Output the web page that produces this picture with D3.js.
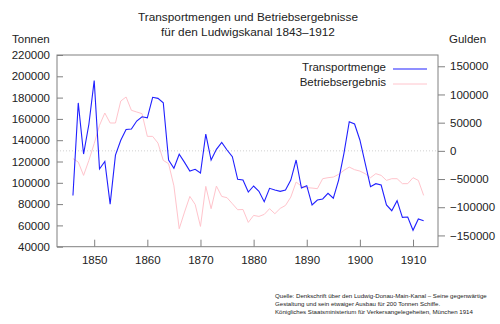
<!DOCTYPE html>
<html lang="de">
<head>
<meta charset="utf-8">
<title>Ludwigskanal</title>
<script src="https://d3js.org/d3.v7.min.js"></script>
<style>
  body{margin:0;background:#fff;font-family:"Liberation Sans",Arial,sans-serif;}
  .axis text{font-size:11.5px;fill:#222;font-family:"Liberation Sans",Arial,sans-serif;}
  .axis line{stroke:#808080;}
  .axis path{display:none;}
</style>
</head>
<body>
<div id="chart"></div>
<script>
// years with data
var years = d3.range(1846, 1913)

// Transportmenge in Tonnen (left axis)
var tonnen = [88000, 175000, 127000, 155000, 196000, 113000, 120000, 80000, 126000, 140000,
              150000, 150500, 158000, 162000, 161000, 180300, 179300, 175200, 121400, 113600,
              126800, 119200, 111000, 112700, 109200, 145800, 121400, 131400, 138000, 130800,
              124500, 103300, 102600, 91300, 97000, 92000, 82300, 94800, 93200, 92000,
              93200, 102600, 121400, 95100, 97300, 79200, 83800, 84800, 90100, 85500,
              102600, 127700, 157400, 155200, 140200, 118300, 96300, 99200, 97900, 79200,
              73800, 83200, 67600, 67900, 55400, 66000, 64400]

// Betriebsergebnis in Gulden (right axis)
var gulden = [-13800, -19900, -43500, -16900, 12800, 45300, 67100, 49400, 49400, 88400,
              95500, 71900, 68900, 66000, 25700, 25700, 13800, -16900, -22700, -62000,
              -138100, -108600, -80800, -95000, -134000, -63000, -102600, -62500, -80800, -83100,
              -93700, -104400, -104000, -126900, -114500, -116300, -112700, -102600, -111500, -102100,
              -96800, -82000, -55400, -62500, -65300, -66000, -67100, -49400, -47600, -46500,
              -41700, -34600, -28800, -33400, -35900, -40500, -47600, -40500, -43500, -52400,
              -49400, -49400, -58200, -58200, -47600, -52400, -79000]

var xTicks = [1850, 1860, 1870, 1880, 1890, 1900, 1910]
var leftTicks = d3.range(40000, 220001, 20000)
var rightTicks = d3.range(-150000, 150001, 50000)

var seriesNames = ["Transportmenge", "Betriebsergebnis"]
var sourceLines = ["Quelle: Denkschrift über den Ludwig-Donau-Main-Kanal – Seine gegenwärtige",
                   "Gestaltung und sein etwaiger Ausbau für 200 Tonnen Schiffe.",
                   "Königliches Staatsministerium für Verkersangelegeheiten, München 1914"]

var w = 500, h = 324
var pLeft = 57, pRight = 438, pTop = 55, pBottom = 246.7

var svg = d3.select("#chart").append("svg")
    .attr("width", w)
    .attr("height", h)

var xScale = d3.scaleLinear().domain([1843, 1914.7]).range([pLeft, pRight])
var yLeft = d3.scaleLinear().domain([40000, 220000]).range([pBottom, pTop])
var yRight = d3.scaleLinear().domain([-170000, 170000]).range([pBottom, pTop])

// zero line of the Gulden axis
svg.append("line")
    .attr("x1", pLeft).attr("x2", pRight)
    .attr("y1", yRight(0)).attr("y2", yRight(0))
    .style("stroke", "#d0d0d0")
    .style("stroke-dasharray", "1,2")

// axes
svg.append("g")
    .attr("class", "axis")
    .attr("transform", "translate(" + pLeft + ",0)")
    .call(d3.axisLeft(yLeft).tickValues(leftTicks).tickSizeInner(-6).tickSizeOuter(0).tickPadding(7).tickFormat(d3.format("d")))

svg.append("g")
    .attr("class", "axis")
    .attr("transform", "translate(" + pRight + ",0)")
    .call(d3.axisRight(yRight).tickValues(rightTicks).tickSizeInner(7).tickSizeOuter(0).tickPadding(5).tickFormat(d3.format("d")))

svg.append("g")
    .attr("class", "axis")
    .attr("transform", "translate(0," + pBottom + ")")
    .call(d3.axisBottom(xScale).tickValues(xTicks).tickSizeInner(-7).tickSizeOuter(0).tickPadding(9).tickFormat(d3.format("d")))

// frame
svg.append("rect")
    .attr("x", pLeft).attr("y", pTop)
    .attr("width", pRight - pLeft).attr("height", pBottom - pTop)
    .style("fill", "none")
    .style("stroke", "#808080")

// lines
var lineG = d3.line()
    .x(function(d, i) { return xScale(years[i]) })
    .y(function(d) { return yRight(d) })
var lineT = d3.line()
    .x(function(d, i) { return xScale(years[i]) })
    .y(function(d) { return yLeft(d) })

svg.append("path")
    .attr("d", lineG(gulden))
    .style("fill", "none")
    .style("stroke", "#ffc4cc")
    .style("stroke-width", 1)

svg.append("path")
    .attr("d", lineT(tonnen))
    .style("fill", "none")
    .style("stroke", "#2020ff")
    .style("stroke-width", 1.1)

// legend
var legendColors = ["#2020ff", "#ffc4cc"]
seriesNames.forEach(function(name, i) {
    var y = 69 + i * 15
    svg.append("text")
        .attr("x", 386).attr("y", y + 2)
        .attr("text-anchor", "end")
        .style("font-size", "11.5px")
        .style("fill", "#222")
        .text(name)
    svg.append("line")
        .attr("x1", 393).attr("x2", 427)
        .attr("y1", y).attr("y2", y)
        .style("stroke", legendColors[i])
        .style("stroke-width", i == 0 ? 1.1 : 1)
})

// titles
svg.append("text")
    .attr("x", 248).attr("y", 20.5)
    .attr("text-anchor", "middle")
    .style("font-size", "11.8px")
    .style("fill", "#222")
    .text("Transportmengen und Betriebsergebnisse")
svg.append("text")
    .attr("x", 248).attr("y", 35.5)
    .attr("text-anchor", "middle")
    .style("font-size", "11.8px")
    .style("fill", "#222")
    .text("für den Ludwigskanal 1843–1912")

svg.append("text")
    .attr("x", 12).attr("y", 43)
    .style("font-size", "11.5px")
    .style("fill", "#222")
    .text("Tonnen")
svg.append("text")
    .attr("x", 449).attr("y", 43)
    .style("font-size", "11.5px")
    .style("fill", "#222")
    .text("Gulden")

// source
sourceLines.forEach(function(s, i) {
    svg.append("text")
        .attr("x", 275).attr("y", 297.5 + i * 8.2)
        .style("font-size", "6.1px")
        .style("fill", "#222")
        .text(s)
})
</script>
</body>
</html>
